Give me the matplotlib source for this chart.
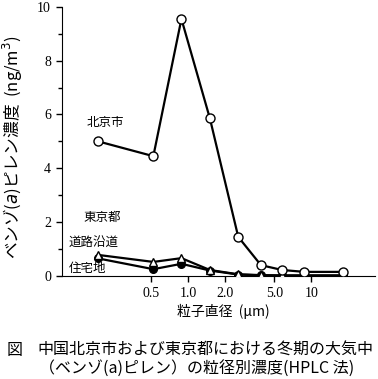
import numpy as np
import matplotlib
matplotlib.use("Agg")
import matplotlib.pyplot as plt

plt.rcParams['font.family'] = ['Noto Sans CJK JP', 'DejaVu Sans']

# particle diameter (um) and concentrations (ng/m3)
diam = [0.185, 0.52, 0.88, 1.5, 2.55, 3.9, 5.8, 8.8, 18.0]
beijing = [5.0, 4.45, 9.55, 5.85, 1.45, 0.4, 0.22, 0.15, 0.15]
roadside = [0.78, 0.52, 0.66, 0.22, 0.06, 0.03, 0.02, 0.02, 0.02]
residential = [0.65, 0.25, 0.45, 0.2, 0.05, 0.02, 0.01, 0.01, 0.01]

xticks = [0.5, 1.0, 2.0, 5.0, 10]
xticklabels = ['0.5', '1.0', '2.0', '5.0', '10']

fig = plt.figure(figsize=(3.78, 3.79), dpi=100)
ax = fig.add_axes([0.164, 0.272, 0.828, 0.71])

ax.plot(diam, residential, '-o', color='black', lw=1.6, ms=5.5,
        mfc='black', mec='black', zorder=3)
ax.plot(diam, roadside, '-^', color='black', lw=1.6, ms=6,
        mfc='white', mec='black', mew=1, zorder=4)
ax.plot(diam, beijing, '-o', color='black', lw=1.6, ms=6.5,
        mfc='white', mec='black', mew=1, zorder=5)

ax.set_xscale('log')
ax.set_xlim(0.094, 33)
ax.set_ylim(0, 10)
ax.spines['top'].set_visible(False)
ax.spines['right'].set_visible(False)

ax.set_xticks(xticks)
ax.set_xticklabels(xticklabels, family='Liberation Serif', fontsize=10)
ax.xaxis.set_minor_locator(matplotlib.ticker.NullLocator())
ax.set_yticks([0, 2, 4, 6, 8, 10])
ax.set_yticks([1, 3, 5, 7, 9], minor=True)
ax.set_yticklabels(['0', '2', '4', '6', '8', '10'], family='Liberation Serif', fontsize=10)
ax.tick_params(axis='both', which='major', length=4, width=1, direction='out', pad=4)
ax.tick_params(axis='y', which='minor', length=3, width=1, direction='out')

ax.set_xlabel('粒子直径  (μm)', fontsize=10)
ax.xaxis.set_label_coords(0.514, -0.105)
ax.set_ylabel('ベンゾ($\\it{a}$)ピレン濃度  (ng/m$^3$)', fontsize=12)
ax.yaxis.set_label_coords(-0.118, 0.48)

ax.text(0.211, 5.7, '北京市', fontsize=9, ha='center', va='center')
ax.text(0.2, 2.19, '東京都', fontsize=9, ha='center', va='center')
ax.text(0.106, 1.26, '道路沿道', fontsize=9, ha='left', va='center')
ax.text(0.106, 0.26, '住宅地', fontsize=9, ha='left', va='center')

fig.text(0.018, 0.076, '図', fontsize=11.5, ha='left', va='center')
fig.text(0.098, 0.076, '中国北京市および東京都における冬期の大気中', fontsize=11.5,
         ha='left', va='center')
fig.text(0.102, 0.026, '（ベンゾ(a)ピレン）の粒径別濃度(HPLC 法)', fontsize=11.5,
         ha='left', va='center')

fig.savefig('out.png', dpi=100)
